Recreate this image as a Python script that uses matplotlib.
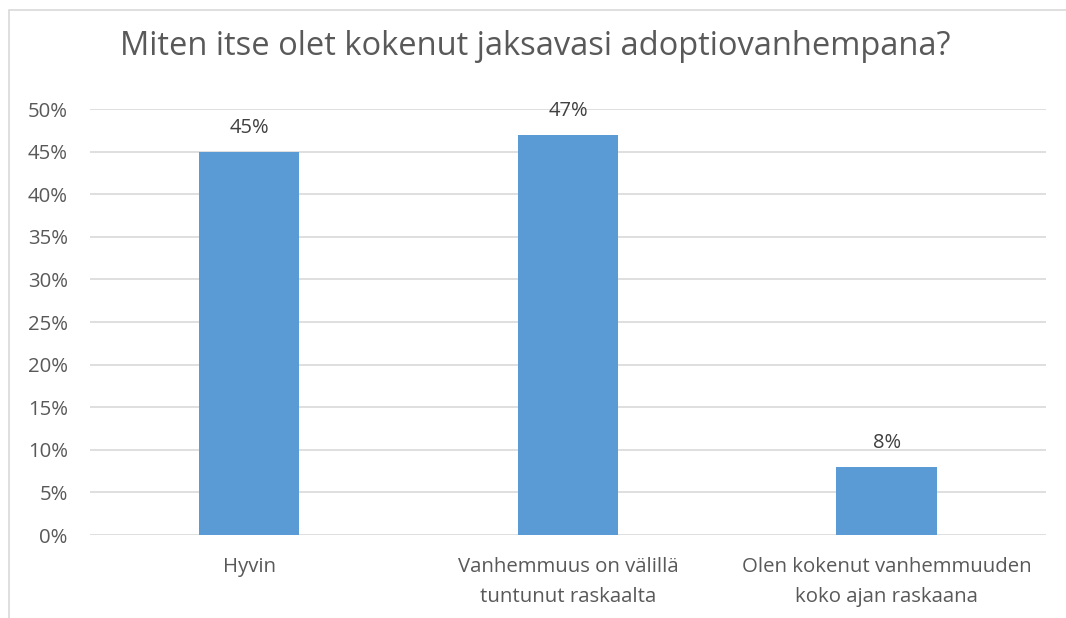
import matplotlib
matplotlib.use("Agg")
import matplotlib.pyplot as plt
from matplotlib.patches import Rectangle
from matplotlib.ticker import PercentFormatter

# ---- data ----
categories = ["Hyvin",
              "Vanhemmuus on välillä\ntuntunut raskaalta",
              "Olen kokenut vanhemmuuden\nkoko ajan raskaana"]
values = [45, 47, 8]
title = "Miten itse olet kokenut jaksavasi adoptiovanhempana?"

plt.rcParams["font.family"] = ["Open Sans", "DejaVu Sans"]
grey = "#595959"

fig = plt.figure(figsize=(10.66, 6.18), dpi=100)
ax = fig.add_axes([0.0844, 0.1343, 0.8968, 0.6893])

x = range(len(categories))
bars = ax.bar(x, values, width=0.315, color="#5B9BD5", zorder=3)
for b, v in zip(bars, values):
    ax.text(b.get_x() + b.get_width() / 2, v + 1.6, f"{v}%",
            ha="center", va="bottom", fontsize=14.5, color="#404040")

ax.set_xlim(-0.5, len(categories) - 0.5)
ax.set_ylim(0, 50)
ax.set_yticks(range(0, 51, 5))
ax.yaxis.set_major_formatter(PercentFormatter(decimals=0))
ax.set_xticks(list(x))
ax.set_xticklabels(categories, fontsize=14.7, color=grey, linespacing=1.65)
ax.tick_params(axis="y", labelsize=14.7, labelcolor=grey, length=0, pad=16)
ax.tick_params(axis="x", length=0, pad=16)
ax.grid(axis="y", color="#D9D9D9", linewidth=1.2, zorder=0)
for s in ax.spines.values():
    s.set_visible(False)

fig.text(0.502, 0.924, title, ha="center", va="center", fontsize=23.5, color=grey)

# chart border (light grey frame)
fig.patches.append(Rectangle((9 / 1066, -0.05), 1.2, 1 - 10 / 618 + 0.05,
                             transform=fig.transFigure, fill=False,
                             edgecolor="#D9D9D9", linewidth=1.2))

fig.savefig("out.png", dpi=100)
